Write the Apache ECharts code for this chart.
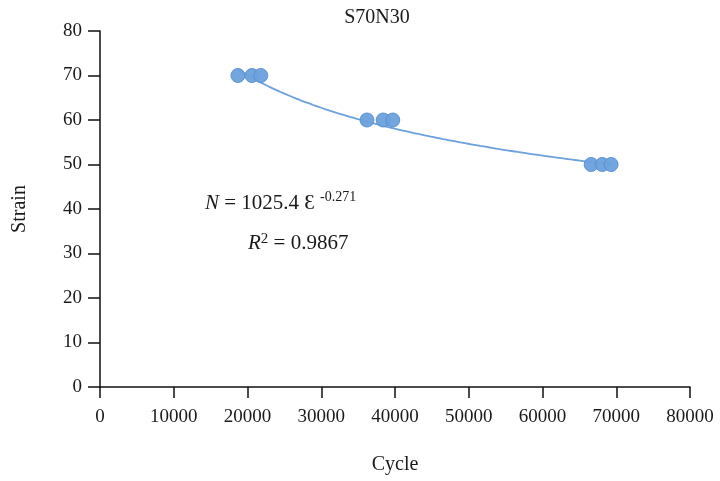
<!DOCTYPE html>
<html>
<head>
<meta charset="utf-8">
<script src="https://cdn.jsdelivr.net/npm/echarts@6/dist/echarts.min.js"></script>
<style>
  html, body { margin: 0; padding: 0; background: #fff; }
  #chart { width: 720px; height: 481px; }
</style>
</head>
<body>
<div id="chart"></div>
<script>
// Measured fatigue tests: cycles to failure at three strain levels
const cycles = [18700, 20600, 21800, 36200, 38400, 39700, 66600, 68100, 69300];
const strain = [70, 70, 70, 60, 60, 60, 50, 50, 50];

// Power-law trend: strain = A * N^B
const fitA = 1025.4;
const fitB = -0.271;
const fitR2 = 0.9867;

const xTicks = { min: 0, max: 80000, interval: 10000 };
const yTicks = { min: 0, max: 80, interval: 10 };

const points = cycles.map((c, i) => [c, strain[i]]);

// trend curve evaluated across the tested range
const trend = [];
const nMin = Math.min(...cycles), nMax = Math.max(...cycles);
const steps = 60;
for (let i = 0; i <= steps; i++) {
  const n = nMin + (nMax - nMin) * i / steps;
  trend.push([n, fitA * Math.pow(n, fitB)]);
}

const serif = '"Liberation Serif", "DejaVu Serif", serif';
const ink = '#1a1a1a';
const chart = echarts.init(document.getElementById('chart'), null, { renderer: 'canvas' });

chart.setOption({
  animation: false,
  backgroundColor: '#ffffff',
  title: {
    text: 'S70N30',
    left: 372, top: 3, textAlign: 'center',
    textStyle: { fontFamily: serif, fontWeight: 'normal', fontSize: 20, color: ink }
  },
  grid: { left: 100, right: 30, top: 31, bottom: 94 },
  xAxis: {
    type: 'value', min: xTicks.min, max: xTicks.max, interval: xTicks.interval,
    name: 'Cycle', nameLocation: 'middle', nameGap: 68,
    nameTextStyle: { fontFamily: serif, fontSize: 20, color: ink },
    axisLine: { onZero: false, lineStyle: { color: '#111', width: 1.5 } },
    axisTick: { show: true, length: 11, lineStyle: { color: '#111', width: 1.5 } },
    axisLabel: { fontFamily: serif, fontSize: 19, color: ink, margin: 21, formatter: v => String(v) },
    splitLine: { show: false }
  },
  yAxis: {
    type: 'value', min: yTicks.min, max: yTicks.max, interval: yTicks.interval,
    name: 'Strain', nameLocation: 'middle', nameGap: 70, nameRotate: 90,
    nameTextStyle: { fontFamily: serif, fontSize: 20, color: ink },
    axisLine: { show: true, lineStyle: { color: '#111', width: 1.5 } },
    axisTick: { show: true, length: 12, lineStyle: { color: '#111', width: 1.5 } },
    axisLabel: { fontFamily: serif, fontSize: 19, color: ink, margin: 18 },
    splitLine: { show: false }
  },
  series: [
    {
      type: 'line', data: trend, showSymbol: false, smooth: true,
      lineStyle: { color: '#6ca1dc', width: 1.8 }, z: 2
    },
    {
      type: 'scatter', data: points, symbol: 'circle', symbolSize: 14,
      itemStyle: { color: '#6ca1dc', borderColor: '#5a8fd2', borderWidth: 1, opacity: 0.95 }, z: 3
    }
  ],
  graphic: [
    {
      type: 'text', left: 205, top: 190,
      style: {
        text: '{i|N} = 1025.4 Ɛ {s|' + fitB.toFixed(3) + '}',
        fontFamily: serif, fontSize: 21, fill: ink,
        rich: {
          i: { fontFamily: serif, fontStyle: 'italic', fontSize: 21, fill: ink },
          s: { fontFamily: serif, fontSize: 14, fill: ink, padding: [0, 0, 12, 0] }
        }
      }
    },
    {
      type: 'text', left: 248, top: 232,
      style: {
        text: '{i|R}{s|2} = ' + fitR2.toFixed(4),
        fontFamily: serif, fontSize: 21, fill: ink,
        rich: {
          i: { fontFamily: serif, fontStyle: 'italic', fontSize: 21, fill: ink },
          s: { fontFamily: serif, fontSize: 15, fill: ink, padding: [0, 0, 8, 0] }
        }
      }
    }
  ]
});
</script>
</body>
</html>
